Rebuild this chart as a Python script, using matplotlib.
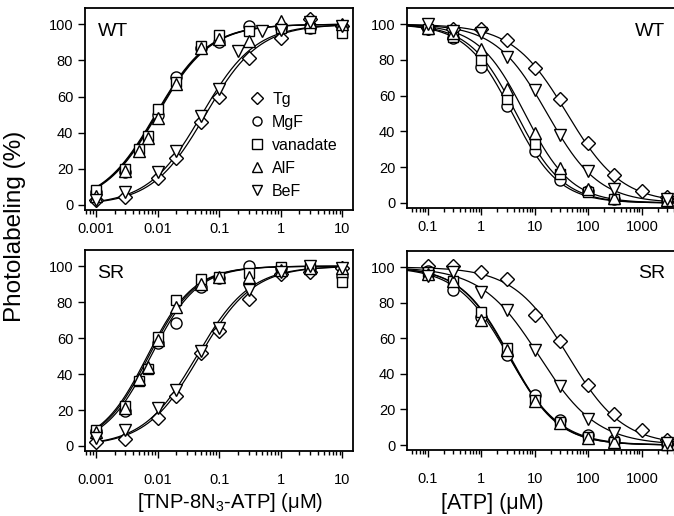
import numpy as np
import matplotlib
matplotlib.use("Agg")
import matplotlib.pyplot as plt
from matplotlib.lines import Line2D

plt.rcParams['font.family'] = ['Liberation Sans', 'DejaVu Sans']
plt.rcParams['mathtext.fontset'] = 'custom'
plt.rcParams['mathtext.rm'] = 'Liberation Sans'

nan = np.nan

names = ['Tg', 'MgF', 'vanadate', 'AlF', 'BeF']
markers = ['D', 'o', 's', '^', 'v']
msizes = [6.8, 8, 7.2, 8, 8]

# TNP-8N3-ATP concentrations (uM)
tnp_conc = [0.001, 0.003, 0.005, 0.007, 0.01, 0.02, 0.05, 0.1, 0.2, 0.3, 0.5, 1, 3, 10]

wt_tnp_tg = [3, 4.6, nan, nan, 15, 26, 46, 60, nan, 81.5, nan, 92.6, 103, 99]
wt_tnp_mgf = [7.4, 18, nan, nan, 50, 71, 87, 90, nan, 99, nan, 98, 98, 99]
wt_tnp_van = [8, 20, 31, 38, 53, 68, 88, 94, nan, 96, nan, 98, 98, 95]
wt_tnp_alf = [5, 19, 30, 37, 48, 67, 87, 92, nan, 90.7, nan, 102, 101, 100]
wt_tnp_bef = [3, 7, nan, nan, 18.5, 30, 49, 64, 85, nan, 96, 97, 101, 99]

sr_tnp_tg = [2, 4, nan, nan, 15.7, 27.7, 51.7, 64, nan, 81.5, nan, 95.4, 97, 99]
sr_tnp_mgf = [8.3, 19.4, nan, nan, 57, 68.6, 88.6, 93.5, nan, 100, nan, 99, 99, 94.5]
sr_tnp_van = [9, 22, 36, 43, 60.5, 81, 92.6, 94, nan, 96, nan, 99.6, 99, 91]
sr_tnp_alf = [8, 21, 37, 44, 59, 77.5, 90, 94, nan, 94, nan, 98, 99, 99]
sr_tnp_bef = [4.6, 9, nan, nan, 21, 31, 52.6, 65.5, nan, 86.7, nan, 97, 100, 99]

# ATP concentrations (uM)
atp_conc = [0.1, 0.3, 1, 3, 10, 30, 100, 300, 1000, 3000]

wt_atp_tg = [98, 97, 97, 91, 75.5, 58, 33.7, 15.4, 6.5, 3.3]
wt_atp_mgf = [97, 92, 76, 54, 29, 13, 6.5, 2, nan, 1]
wt_atp_van = [97, 93, 80, 58, 33, 16, 6, 2.4, nan, 1]
wt_atp_alf = [98, 95, 86, 64, 39, 19.4, 8, 3, nan, 1.5]
wt_atp_bef = [100, 96, 95, 81.5, 63, 38, 18, 7.8, nan, 2]

sr_atp_tg = [100.5, 100.5, 97.4, 93, 73, 58.5, 33.6, 17.5, 8.3, 2.8]
sr_atp_mgf = [98, 87.3, 72, 50.7, 28.2, 13.8, 5.5, 2.8, nan, 0.5]
sr_atp_van = [97, 92, 75, 54.4, 25.3, 13, 4.6, 1.5, nan, 0]
sr_atp_alf = [96, 92, 70, 53.5, 25, 12.4, 4, 1.5, nan, 0.5]
sr_atp_bef = [95, 97, 86, 76, 53.5, 33.2, 14.8, 6.8, nan, 1]

# fitted Hill parameters (K or IC50 in uM, Hill coefficient), order as names
wt_tnp_fit = [(0.06, 1.0), (0.0092, 1.0), (0.0095, 1.0), (0.0098, 1.0), (0.052, 1.0)]
sr_tnp_fit = [(0.048, 1.0), (0.0078, 1.15), (0.0068, 1.15), (0.0072, 1.15), (0.043, 1.0)]
wt_atp_fit = [(40, 0.85), (3.8, 1.0), (4.5, 1.0), (6.5, 1.0), (17, 0.9)]
sr_atp_fit = [(42, 0.85), (3.2, 0.9), (3.3, 0.95), (3.4, 0.95), (12, 0.8)]

W, H = 674, 516
fig = plt.figure(figsize=(W / 100, H / 100), dpi=100)


def box(x0, y0, x1, y1):
    return [x0 / W, 1 - y1 / H, (x1 - x0) / W, (y1 - y0) / H]


ax_tl = fig.add_axes(box(85, 8, 353, 210))
ax_tr = fig.add_axes(box(407, 8, 679, 208))
ax_bl = fig.add_axes(box(85, 250, 353, 451))
ax_br = fig.add_axes(box(407, 251, 679, 450))


def draw(ax, conc, series, fits, rising, xfit):
    for yv, (k, n) in zip(series, fits):
        if rising:
            yf = 100 * xfit ** n / (k ** n + xfit ** n)
        else:
            yf = 100 / (1 + (xfit / k) ** n)
        ax.plot(xfit, yf, color='black', lw=0.9, zorder=2)
    for yv, m, ms in zip(series, markers, msizes):
        ax.plot(conc, yv, ls='none', marker=m, ms=ms, mfc='white',
                mec='black', mew=1.0, zorder=3, clip_on=False)


tnp_fit_x = np.logspace(-3, 1, 300)
atp_fit_x = np.logspace(np.log10(0.0407), np.log10(4000), 300)

draw(ax_tl, tnp_conc, [wt_tnp_tg, wt_tnp_mgf, wt_tnp_van, wt_tnp_alf, wt_tnp_bef],
     wt_tnp_fit, True, tnp_fit_x)
draw(ax_bl, tnp_conc, [sr_tnp_tg, sr_tnp_mgf, sr_tnp_van, sr_tnp_alf, sr_tnp_bef],
     sr_tnp_fit, True, tnp_fit_x)
draw(ax_tr, atp_conc, [wt_atp_tg, wt_atp_mgf, wt_atp_van, wt_atp_alf, wt_atp_bef],
     wt_atp_fit, False, atp_fit_x)
draw(ax_br, atp_conc, [sr_atp_tg, sr_atp_mgf, sr_atp_van, sr_atp_alf, sr_atp_bef],
     sr_atp_fit, False, atp_fit_x)

tnp_ticks = [0.001, 0.01, 0.1, 1, 10]
tnp_labels = ['0.001', '0.01', '0.1', '1', '10']
atp_ticks = [0.1, 1, 10, 100, 1000]
atp_labels = ['0.1', '1', '10', '100', '1000']

for ax in (ax_tl, ax_tr, ax_bl, ax_br):
    ax.set_xscale('log')
    ax.set_ylim(-2.8, 109)
    ax.set_yticks([0, 20, 40, 60, 80, 100])
    for s in ax.spines.values():
        s.set_linewidth(1.3)
    ax.tick_params(which='both', direction='out', labelsize=10.5, width=1.0,
                   top=False, right=False)
    ax.tick_params(which='major', length=5)
    ax.tick_params(which='minor', length=3)

for ax in (ax_tl, ax_bl):
    ax.set_xlim(10 ** -3.179, 10 ** 1.172)
    ax.set_xticks(tnp_ticks)
    ax.set_xticklabels(tnp_labels)
for ax in (ax_tr, ax_br):
    ax.set_xlim(0.0407, 4943)
    ax.set_xticks(atp_ticks)
    ax.set_xticklabels(atp_labels)
for ax in (ax_bl, ax_br):
    ax.tick_params(axis='x', which='major', pad=11)

fig.text(98 / W, 1 - 32 / H, 'WT', fontsize=14, va='center')
fig.text(665 / W, 1 - 32 / H, 'WT', fontsize=14, va='center', ha='right')
fig.text(97 / W, 1 - 273 / H, 'SR', fontsize=14, va='center')
fig.text(665 / W, 1 - 273 / H, 'SR', fontsize=14, va='center', ha='right')

handles = [Line2D([], [], ls='none', marker=m, ms=6.5, mfc='white', mec='black', mew=1.0)
           for m in markers]
fig.legend(handles, names, loc='upper left', bbox_to_anchor=(249 / W, 1 - 92 / H),
           frameon=False, fontsize=11.5, handlelength=1.0, handletextpad=0.45,
           labelspacing=0.5, borderpad=0, borderaxespad=0)

fig.text(15 / W, 1 - 226 / H, 'Photolabeling (%)', rotation=90, fontsize=17.5,
         ha='center', va='center')
fig.text(230 / W, 1 - 503 / H, r'[TNP-8N$_3$-ATP] (μM)', fontsize=14.5,
         ha='center', va='center')
fig.text(492 / W, 1 - 503 / H, '[ATP] (μM)', fontsize=15.5, ha='center', va='center')

fig.savefig('out.png', dpi=100)
